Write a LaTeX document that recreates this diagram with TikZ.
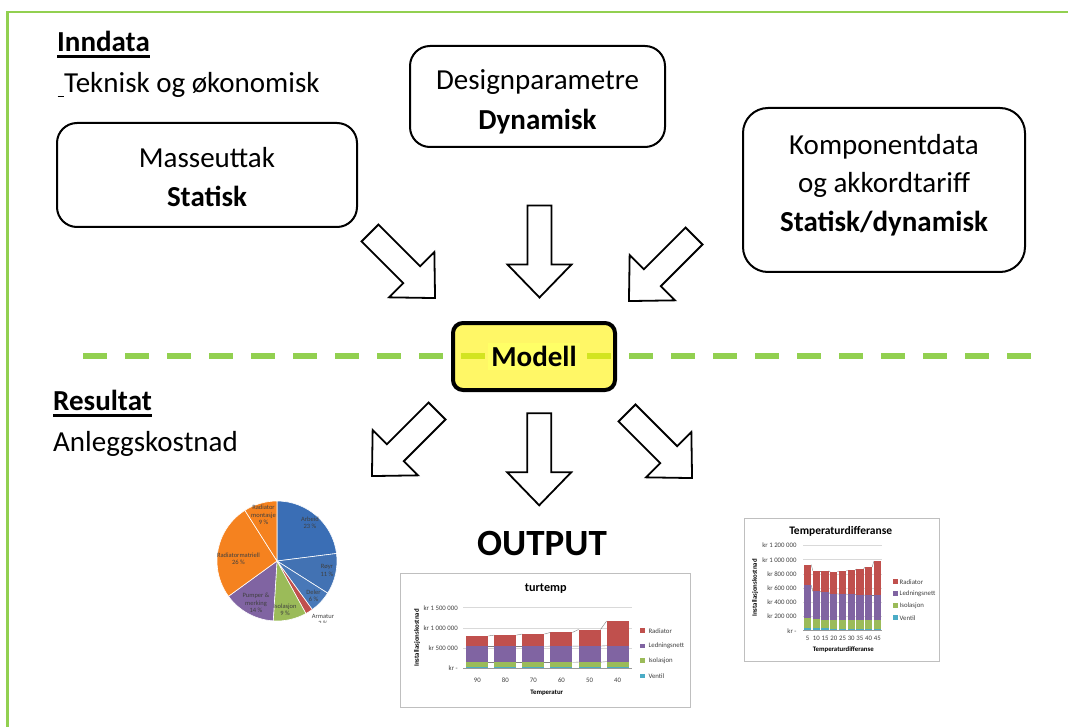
\documentclass[tikz,border=0pt]{standalone}
\usepackage{fontspec}
\setmainfont{Carlito}
\definecolor{lgreen}{HTML}{92D050}
\definecolor{crad}{HTML}{C0504D}
\definecolor{cled}{HTML}{8064A2}
\definecolor{ciso}{HTML}{9BBB59}
\definecolor{cven}{HTML}{4BACC6}
\definecolor{cora}{HTML}{F5821F}
\definecolor{cblueA}{HTML}{3A6EB5}
\definecolor{cblueB}{HTML}{4272B3}
\definecolor{cblueC}{HTML}{4878B8}
\definecolor{cgrid}{HTML}{D9D9D9}
\definecolor{cframe}{HTML}{BFBFBF}
\definecolor{ctext}{HTML}{404040}
\definecolor{myyel}{HTML}{FFFF66}
\newcommand\fsz[2]{\fontsize{#1}{#2}\selectfont}
\newcommand\ulbold[1]{\setbox0=\hbox{#1}\rlap{\rule[-6.5pt]{\wd0}{3pt}}\box0}
\begin{document}
\begin{tikzpicture}[x=1pt,y=-1pt,
  box/.style={draw=black, line width=2pt, rounded corners=20pt, inner sep=0pt},
  txt/.style={font=\fsz{29}{39}, inner sep=0pt, anchor=base},
  head/.style={font=\fsz{29}{39}, inner sep=0pt, anchor=base west},
  arrowline/.style={draw=black, line width=1.8pt, fill=white, line join=miter},
  bigarrow/.pic={\draw[arrowline] (0,-12) -- (59,-12) -- (59,-32) -- (92,0) -- (59,32) -- (59,12) -- (0,12) -- cycle;},
  pielbl/.style={font=\fsz{6.5}{7.4}, inner sep=0pt, text=ctext, align=center},
  axlbl/.style={font=\fsz{6.8}{8}, inner sep=0pt, text=ctext},
  axttl/.style={font=\bfseries\fsz{6.8}{8}, inner sep=0pt, text=black},
  legsq/.style={minimum size=4.5pt, inner sep=0pt},
  frame/.style={draw=cframe, line width=0.8pt, inner sep=0pt, fill=white},
  grid/.style={cgrid, line width=0.6pt},
  serline/.style={gray, line width=0.4pt}
]
\useasboundingbox (0,0) rectangle (1068,727);
% border
\draw[lgreen, line width=2.5pt, line join=miter] (7.7,727) -- (7.7,12) -- (1068,12);
% dashed separator
\draw[lgreen, line width=6pt, dash pattern=on 24pt off 18pt] (83.3,356) -- (1040,356);

% headings
\node[head] (inndata) at (57,52) {\ulbold{\bfseries Inndata}};
\node[head] (teknisk) at (57.3,93) {\rule[-4.5pt]{6.7pt}{1.8pt}Teknisk og økonomisk};
\node[head] (resultat) at (53,410) {\ulbold{\bfseries Resultat}};
\node[head] (anlegg) at (53,451) {Anleggskostnad};

% input boxes
\node[box, minimum width=300pt, minimum height=104pt] (mass) at (207,175) {};
\node[txt] (mass1) at (207,168) {Masseuttak};
\node[txt] (mass2) at (207,207) {\bfseries Statisk};

\node[box, minimum width=255pt, minimum height=101pt] (design) at (537.5,96.5) {};
\node[txt] (design1) at (537.5,90) {Designparametre};
\node[txt] (design2) at (537.5,130) {\bfseries Dynamisk};

\node[box, rounded corners=25pt, minimum width=282pt, minimum height=164pt] (komp) at (884,190) {};
\node[txt] (komp1) at (884,155) {Komponentdata};
\node[txt] (komp2) at (884,193) {og akkordtariff};
\node[txt] (komp3) at (884,232) {\bfseries Statisk/dynamisk};

% model
\node[draw=black, line width=4pt, rounded corners=10pt, fill=yellow, fill opacity=0.6, text opacity=1,
      minimum width=162pt, minimum height=67pt, inner sep=0pt, font=\bfseries\fsz{29}{35}]
      (model) at (534,356.5) {\colorbox{myyel}{Modell}};

% block arrows
\pic[rotate=-45] at (370,233) {bigarrow};
\pic[rotate=-90] at (539.5,205.5) {bigarrow};
\pic[rotate=-135] at (694,236) {bigarrow};
\pic[rotate=-135] at (437,411) {bigarrow};
\pic[rotate=-90] at (539.2,413.3) {bigarrow};
\pic[rotate=-45] at (627,413) {bigarrow};

% OUTPUT
\node[font=\bfseries\fsz{37}{44}, inner sep=0pt, anchor=base] (output) at (542,555) {OUTPUT};

% pie chart
\begin{scope}[shift={(277,561)}, y=1pt]
  \foreach \a/\b/\c in {90/7.2/cblueA, 7.2/-32.4/cblueB, -32.4/-54/cblueC, -54/-61.2/crad,
                        -61.2/-93.6/ciso, -93.6/-144/cled, -144/-237.6/cora, -237.6/-270/cora}
    \filldraw[fill=\c, draw=white, line width=0.6pt] (0,0) -- (\a:60) arc[start angle=\a, end angle=\b, radius=60] -- cycle;
\end{scope}
\node[pielbl] (pl1) at (310,523) {Arbeid\\23 \%};
\node[pielbl] (pl2) at (327,570.5) {Røyr\\11 \%};
\node[pielbl] (pl3) at (313.5,596) {Deler\\6 \%};
\begin{scope}
  \clip (200,480) rectangle (370,622.5);
  \node[pielbl] (pl4) at (323,620) {Armatur\\2 \%};
\end{scope}
\node[pielbl] (pl5) at (285,610) {Isolasjon\\9 \%};
\node[pielbl] (pl6) at (256,603) {Pumper \&\\merking\\14 \%};
\node[pielbl] (pl7) at (238.5,559) {Radiatormatriell\\26 \%};
\node[pielbl] (pl8) at (263.5,515) {Radiator\\montasje\\9 \%};

% chart turtemp
\node[frame, minimum width=290pt, minimum height=134pt] (chartA) at (545,640) {};
\node[font=\bfseries\fsz{12.2}{14}, inner sep=0pt] (titA) at (545.7,589) {turtemp};
\begin{scope}[shift={(463.3,668.3)}, y=0.0404pt]
  \foreach \v in {500,1000,1500} \draw[grid] (0,\v) -- (168.3,\v);
  \foreach \i/\va/\vb/\vc/\vd in {0/35/150/545/800, 1/35/150/545/822, 2/35/150/545/848,
                                  3/35/150/548/888, 4/35/152/550/960, 5/35/165/560/1170} {
    \pgfmathsetmacro\cx{14.03+\i*28.05}
    \fill[cven] (\cx-11,0) rectangle (\cx+11,\va);
    \fill[ciso] (\cx-11,\va) rectangle (\cx+11,\vb);
    \fill[cled] (\cx-11,\vb) rectangle (\cx+11,\vc);
    \fill[crad] (\cx-11,\vc) rectangle (\cx+11,\vd);
  }
  \foreach \i/\a/\b/\c/\d/\e/\f in {0/150/150/545/545/800/822, 1/150/150/545/545/822/848,
                                    2/150/150/545/548/848/888, 3/150/152/548/550/888/960,
                                    4/152/165/550/560/960/1170} {
    \pgfmathsetmacro\cx{14.03+\i*28.05}
    \draw[serline] (\cx+11,\a) -- (\cx+17.05,\b);
    \draw[serline] (\cx+11,\c) -- (\cx+17.05,\d);
    \draw[serline] (\cx+11,\e) -- (\cx+17.05,\f);
  }
  \draw[gray!80, line width=0.6pt] (0,0) -- (168.3,0);
\end{scope}
\node[axlbl, anchor=east] (ayA1) at (458,607.7) {kr 1 500 000};
\node[axlbl, anchor=east] (ayA2) at (458,627.9) {kr 1 000 000};
\node[axlbl, anchor=east] (ayA3) at (458,648.1) {kr 500 000};
\node[axlbl, anchor=east] (ayA4) at (458,668.3) {kr -};
\foreach \i/\t in {0/90,1/80,2/70,3/60,4/50,5/40}
  \node[axlbl] (axA\i) at (477.3+\i*28.05,680) {\t};
\node[axttl] (xtA) at (546.7,692.7) {Temperatur};
\node[axttl, rotate=90] (ytA) at (417,638) {Installasjonskostnad};
\foreach \y/\c/\t [count=\k] in {630.7/crad/Radiator, 646/cled/Ledningsnett, 660.5/ciso/Isolasjon, 676/cven/Ventil} {
  \node[legsq, fill=\c] (lgA\k) at (642.5,\y) {};
  \node[axlbl, anchor=west] (ltA\k) at (648.3,\y) {\t};
}

% chart Temperaturdifferanse
\node[frame, minimum width=195.3pt, minimum height=143.4pt] (chartB) at (841.7,590) {};
\node[font=\bfseries\fsz{11.5}{13}, inner sep=0pt] (titB) at (840.7,531.7) {Temperaturdifferanse};
\begin{scope}[shift={(803.3,630.7)}, y=0.071pt]
  \foreach \v in {200,400,...,1200} \draw[grid] (0,\v) -- (78.4,\v);
  \foreach \i/\va/\vb/\vc/\vd in {0/40/175/640/930, 1/35/160/555/845, 2/32/155/540/845,
                                  3/30/150/520/830, 4/30/150/515/840, 5/30/148/512/850,
                                  6/30/148/505/868, 7/30/145/500/895, 8/30/145/500/975} {
    \pgfmathsetmacro\cx{4.36+\i*8.71}
    \fill[cven] (\cx-3.6,0) rectangle (\cx+3.6,\va);
    \fill[ciso] (\cx-3.6,\va) rectangle (\cx+3.6,\vb);
    \fill[cled] (\cx-3.6,\vb) rectangle (\cx+3.6,\vc);
    \fill[crad] (\cx-3.6,\vc) rectangle (\cx+3.6,\vd);
  }
  \foreach \i/\c/\d/\e/\f in {0/640/555/930/845, 1/555/540/845/845, 2/540/520/845/830,
                              3/520/515/830/840, 4/515/512/840/850, 5/512/505/850/868,
                              6/505/500/868/895, 7/500/500/895/975} {
    \pgfmathsetmacro\cx{4.36+\i*8.71}
    \draw[serline] (\cx+3.6,\c) -- (\cx+5.11,\d);
    \draw[serline] (\cx+3.6,\e) -- (\cx+5.11,\f);
  }
  \draw[gray!80, line width=0.6pt] (0,0) -- (78.4,0);
\end{scope}
\foreach \v/\t [count=\k] in {0/kr -, 200/kr 200 000, 400/kr 400 000, 600/kr 600 000,
                              800/kr 800 000, 1000/kr 1 000 000, 1200/kr 1 200 000}
  \node[axlbl, anchor=east] (ayB\k) at (796.7,630.7-\v*0.071) {\t};
\foreach \t [count=\k from 0] in {5,10,15,20,25,30,35,40,45}
  \node[axlbl] (axB\k) at (807.66+\k*8.71,638.3) {\t};
\node[axttl] (xtB) at (843.3,649.3) {Temperaturdifferanse};
\node[axttl, rotate=90] (ytB) at (755,588) {Installasjonskostnad};
\foreach \y/\c/\t [count=\k] in {581.7/crad/Radiator, 593.7/cled/Ledningsnett, 605.7/ciso/Isolasjon, 617.7/cven/Ventil} {
  \node[legsq, fill=\c] (lgB\k) at (895.5,\y) {};
  \node[axlbl, anchor=west] (ltB\k) at (899.5,\y) {\t};
}
\end{tikzpicture}
\end{document}
